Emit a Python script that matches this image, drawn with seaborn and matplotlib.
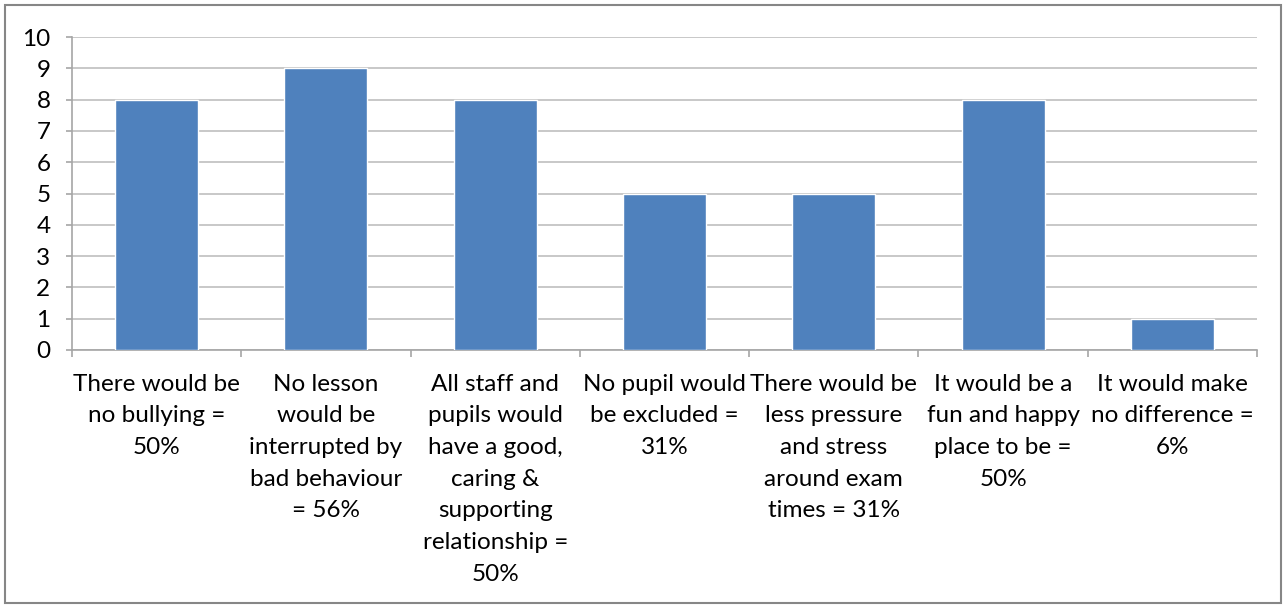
import matplotlib
matplotlib.use("Agg")
import matplotlib.pyplot as plt
import seaborn as sns
import pandas as pd
from matplotlib.patches import Rectangle

categories = [
    "There would be\nno bullying =\n50%",
    "No lesson\nwould be\ninterrupted by\nbad behaviour\n= 56%",
    "All staff and\npupils would\nhave a good,\ncaring &\nsupporting\nrelationship =\n50%",
    "No pupil would\nbe excluded =\n31%",
    "There would be\nless pressure\nand stress\naround exam\ntimes = 31%",
    "It would be a\nfun and happy\nplace to be =\n50%",
    "It would make\nno difference =\n6%",
]
counts = [8, 9, 8, 5, 5, 8, 1]
y_ticks = list(range(0, 11))

sns.set_theme(style="white")
plt.rcParams["font.family"] = ["Lato", "DejaVu Sans"]

df = pd.DataFrame({"category": categories, "count": counts})

fig = plt.figure(figsize=(12.87, 6.08), dpi=100)
ax = fig.add_axes([72 / 1287, 1 - 350 / 608, (1257 - 72) / 1287, (350 - 37) / 608])

sns.barplot(data=df, x="category", y="count", color="#4F81BD", saturation=1,
            width=0.49, ax=ax, zorder=3)

ax.set_ylim(0, 10)
ax.set_xlim(-0.5, len(categories) - 0.5)
ax.set_yticks(y_ticks)
ax.set_xlabel("")
ax.set_ylabel("")

grid_c = "#BFBFBF"
ax.yaxis.grid(True, color=grid_c, linewidth=1.2, zorder=0)
ax.xaxis.grid(False)
for side in ("top", "right"):
    ax.spines[side].set_visible(False)
for side in ("left", "bottom"):
    ax.spines[side].set_color("#A6A6A6")
    ax.spines[side].set_linewidth(1.2)

# Category separators below the axis, as in a spreadsheet chart
ax.set_xticks([i - 0.5 for i in range(len(categories) + 1)], minor=True)
ax.tick_params(axis="x", which="minor", length=5, width=1.2, color="#A6A6A6", bottom=True)
ax.tick_params(axis="x", which="major", length=0, pad=17, labelsize=17.5, labelcolor="#000000")
ax.tick_params(axis="y", length=4.5, width=1.2, color="#A6A6A6", left=True, pad=11,
               labelsize=17.5, labelcolor="#000000")
for lbl in ax.get_xticklabels():
    lbl.set_multialignment("center")
    lbl.set_linespacing(1.63)

fig.patches.append(Rectangle((5 / 1287, 5 / 608), 1276 / 1287, 598 / 608,
                             transform=fig.transFigure, fill=False,
                             edgecolor="#868686", linewidth=1.5))

fig.savefig("out.png", dpi=100)
